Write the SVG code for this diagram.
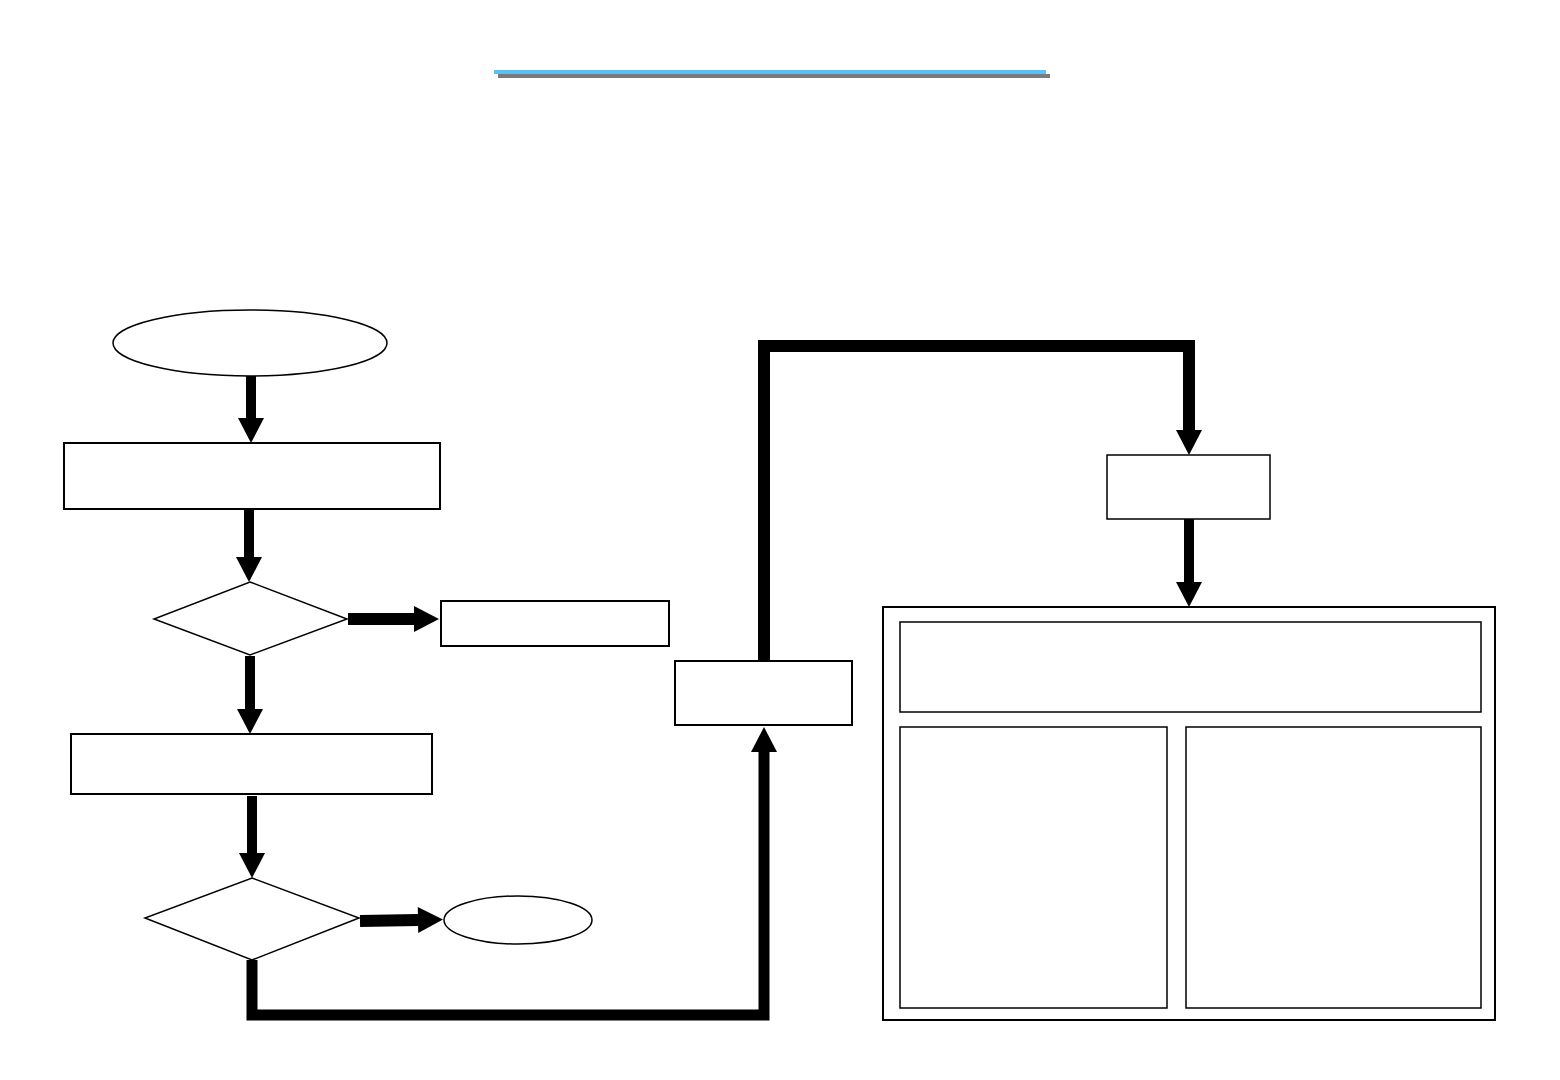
<svg xmlns="http://www.w3.org/2000/svg" width="1560" height="1080" viewBox="0 0 1560 1080">
<style>
.box{fill:#fff;stroke:#000;stroke-width:2}
.thin{fill:#fff;stroke:#000;stroke-width:1.5}
.conn{fill:none;stroke:#000;stroke-linejoin:miter;stroke-linecap:butt}
</style>
<defs>
<marker id="ah" markerUnits="userSpaceOnUse" viewBox="0 -13 25 26" refX="0" refY="0" markerWidth="25" markerHeight="26" orient="auto" overflow="visible">
<path d="M0,-13 L25,0 L0,13 Z" fill="#000"/>
</marker>
</defs>
<rect width="1560" height="1080" fill="#fff"/>
<g id="title-line">
<rect x="498" y="74" width="552" height="4" fill="#7a7a7a"/>
<rect x="494" y="70" width="552" height="4" fill="#5bc0f8"/>
</g>
<g id="connectors">
<path class="conn" stroke-width="10" d="M251,376 V418" marker-end="url(#ah)"/>
<path class="conn" stroke-width="10" d="M249,510 V557" marker-end="url(#ah)"/>
<path class="conn" stroke-width="12" d="M348,619 H414" marker-end="url(#ah)"/>
<path class="conn" stroke-width="10" d="M250,656 V709" marker-end="url(#ah)"/>
<path class="conn" stroke-width="10" d="M252,796 V853" marker-end="url(#ah)"/>
<path class="conn" stroke-width="12" d="M360,921 L418,920" marker-end="url(#ah)"/>
<path class="conn" stroke-width="11" d="M252,960 V1015 H764 V752" marker-end="url(#ah)"/>
<path class="conn" stroke-width="12" d="M764,661 V346 H1189 V430" marker-end="url(#ah)"/>
<path class="conn" stroke-width="10" d="M1189,519 V582" marker-end="url(#ah)"/>
</g>
<g id="start"><ellipse class="thin" cx="250" cy="343" rx="137" ry="33"/></g>
<g id="step1"><rect class="box" x="64" y="443" width="376" height="66"/></g>
<g id="decision1"><polygon class="thin" points="250,582 347,619 250,655 154,619"/></g>
<g id="side1"><rect class="box" x="441" y="601" width="228" height="45"/></g>
<g id="step2"><rect class="box" x="71" y="734" width="361" height="60"/></g>
<g id="decision2"><polygon class="thin" points="252,878 359,918 252,960 145,918"/></g>
<g id="end"><ellipse class="thin" cx="518" cy="920" rx="74" ry="24"/></g>
<g id="step3"><rect class="box" x="675" y="661" width="177" height="64"/></g>
<g id="step4"><rect class="thin" x="1107" y="455" width="163" height="64"/></g>
<g id="panel">
<rect class="box" x="883" y="607" width="612" height="413"/>
<rect class="thin" x="900" y="622" width="581" height="90"/>
<rect class="thin" x="900" y="727" width="267" height="281"/>
<rect class="thin" x="1186" y="727" width="295" height="281"/>
</g>
</svg>
